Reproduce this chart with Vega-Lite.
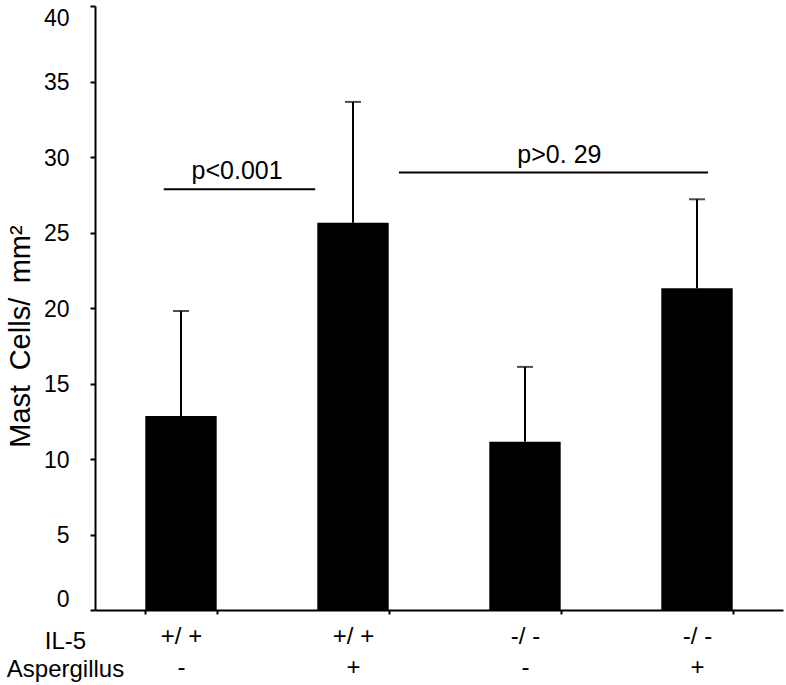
{
  "$schema": "https://vega.github.io/schema/vega-lite/v6.json",
  "width": 688,
  "height": 604,
  "autosize": {"type": "none"},
  "padding": {"left": 95, "top": 6, "right": 3, "bottom": 75},
  "background": "white",
  "config": {
    "view": {"stroke": null},
    "font": "Liberation Sans",
    "axis": {"domainColor": "black", "tickColor": "black", "labelColor": "black", "titleColor": "black", "grid": false}
  },
  "layer": [
    {
      "data": {"values": [
        {"group": "+/ +|-", "mean": 12.85, "top": 19.8},
        {"group": "+/ +|+", "mean": 25.65, "top": 33.65},
        {"group": "-/ -|-", "mean": 11.15, "top": 16.1},
        {"group": "-/ -|+", "mean": 21.3, "top": 27.2}
      ]},
      "encoding": {
        "x": {
          "field": "group", "type": "nominal", "sort": null,
          "scale": {"paddingInner": 0.585, "paddingOuter": 0.2925},
          "axis": {
            "title": ["IL-5", "Aspergillus"],
            "labelAngle": 0,
            "labelExpr": "split(datum.label, '|')",
            "labelFont": "Liberation Sans",
            "labelFontSize": 24,
            "labelLineHeight": 31,
            "labelBaseline": "alphabetic",
            "labelPadding": 29,
            "tickBand": "extent",
            "tickSize": 4,
            "tickWidth": 2,
            "domainWidth": 2,
            "titleFont": "Liberation Sans",
            "titleFontSize": 24,
            "titleFontWeight": "normal",
            "titleAlign": "center",
            "titleBaseline": "alphabetic",
            "titleX": -30,
            "titleY": 38,
            "titleLineHeight": 28
          }
        }
      },
      "layer": [
        {
          "mark": {"type": "bar", "color": "black"},
          "encoding": {
            "y": {
              "field": "mean", "type": "quantitative",
              "scale": {"domain": [0, 40], "nice": false},
              "axis": {
                "title": "Mast\u2002Cells/\u2002mm²",
                "values": [0, 5, 10, 15, 20, 25, 30, 35, 40],
                "labelFont": "Liberation Sans",
                "labelFontSize": 23,
                "labelPadding": 21,
                "labelOffset": 1,
                "labelFlush": true,
                "tickSize": 5,
                "tickWidth": 2,
                "domainWidth": 2,
                "titleFont": "Liberation Sans",
                "titleFontSize": 29,
                "titleFontWeight": "normal",
                "titleAngle": -90,
                "titleAlign": "center",
                "titleBaseline": "middle",
                "titleX": -75,
                "titleY": 330
              }
            }
          }
        },
        {
          "mark": {"type": "rule", "color": "black", "strokeWidth": 2},
          "encoding": {
            "y": {"field": "mean", "type": "quantitative"},
            "y2": {"field": "top"}
          }
        },
        {
          "mark": {"type": "tick", "color": "black", "thickness": 2, "size": 16, "orient": "horizontal"},
          "encoding": {
            "y": {"field": "top", "type": "quantitative"}
          }
        }
      ]
    },
    {
      "data": {"values": [
        {"x1": 0.40, "x2": 1.28, "xt": 0.826, "y": 27.86, "label": "p<0.001"},
        {"x1": 1.767, "x2": 3.564, "xt": 2.70, "y": 28.97, "label": "p>0. 29"}
      ]},
      "layer": [
        {
          "mark": {"type": "rule", "color": "black", "strokeWidth": 2},
          "encoding": {
            "x": {"field": "x1", "type": "quantitative", "scale": {"domain": [0, 4], "nice": false, "zero": false}, "axis": null},
            "x2": {"field": "x2"},
            "y": {"field": "y", "type": "quantitative"}
          }
        },
        {
          "mark": {"type": "text", "font": "Liberation Sans", "fontSize": 25, "dy": -10, "baseline": "alphabetic", "align": "center", "color": "black"},
          "encoding": {
            "x": {"field": "xt", "type": "quantitative", "axis": null},
            "y": {"field": "y", "type": "quantitative"},
            "text": {"field": "label"}
          }
        }
      ]
    }
  ],
  "resolve": {"scale": {"x": "independent"}}
}
